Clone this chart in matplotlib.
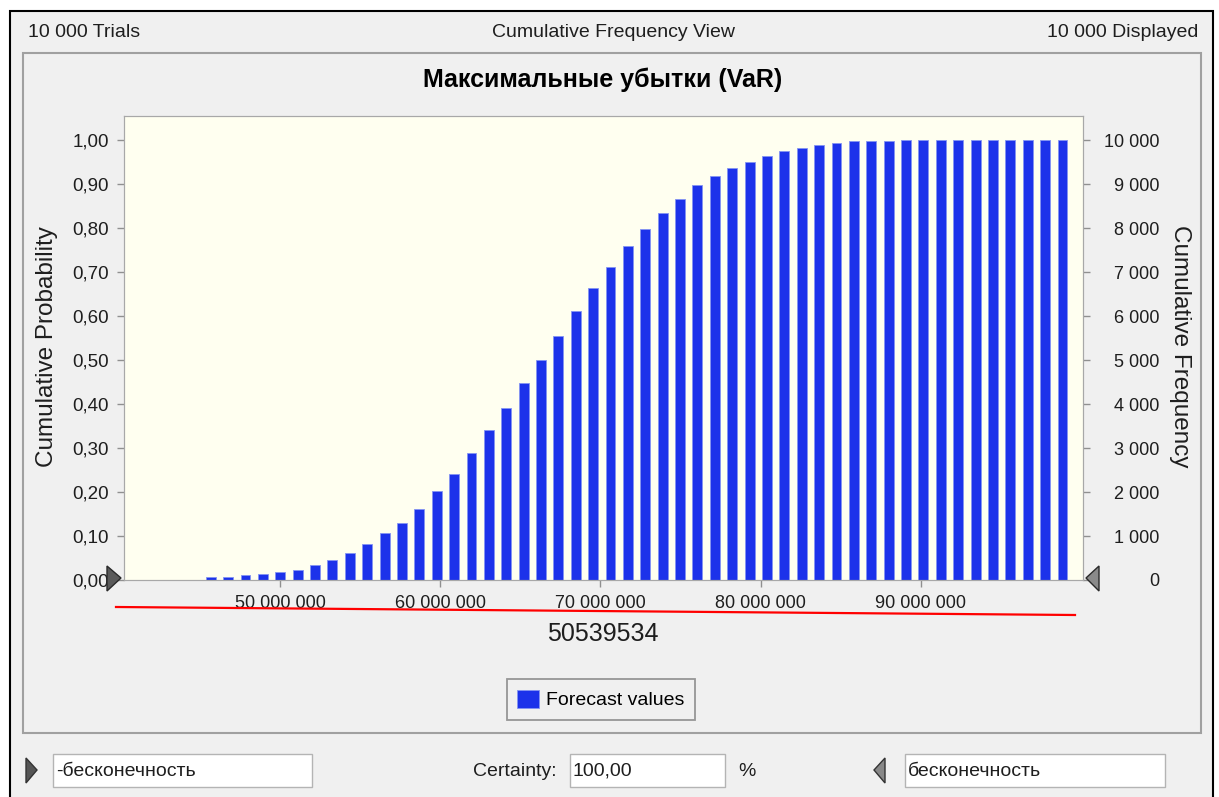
import numpy as np
import matplotlib
matplotlib.use('Agg')
import matplotlib.pyplot as plt
from matplotlib.patches import Rectangle, Polygon

plt.rcParams['font.family'] = ['Liberation Sans', 'DejaVu Sans']

# data
bin_first_center = 45.674e6
bin_width = 1.085e6
cum_prob = [0.006, 0.006, 0.011, 0.014, 0.018, 0.022, 0.034, 0.046, 0.062, 0.082,
            0.106, 0.130, 0.161, 0.202, 0.242, 0.289, 0.341, 0.392, 0.448, 0.500,
            0.555, 0.611, 0.664, 0.711, 0.759, 0.798, 0.835, 0.867, 0.899, 0.919,
            0.936, 0.951, 0.963, 0.975, 0.982, 0.990, 0.994, 0.998, 0.998, 0.998,
            1.000, 1.000, 1.000, 1.000, 1.000, 1.000, 1.000, 1.000, 1.000, 1.000]
n_trials = 10000
x_ticks = [50e6, 60e6, 70e6, 80e6, 90e6]
y_ticks = [0.0, 0.1, 0.2, 0.3, 0.4, 0.5, 0.6, 0.7, 0.8, 0.9, 1.0]
freq_ticks = [0, 1000, 2000, 3000, 4000, 5000, 6000, 7000, 8000, 9000, 10000]
title = 'Максимальные убытки (VaR)'
marked_value = '50539534'

centers = bin_first_center + bin_width * np.arange(len(cum_prob))

W, H = 1219, 797
BLUE = '#1C32EA'
TXT = '#1E1E1E'
UI = 14

fig = plt.figure(figsize=(W / 100, H / 100), dpi=100, facecolor='white')

# background "window" pieces, in pixel coords
bg = fig.add_axes([0, 0, 1, 1], zorder=-1)
bg.set_xlim(0, W)
bg.set_ylim(H, 0)
bg.axis('off')
bg.add_patch(Rectangle((10, 11), 1203, 800, facecolor='#F0F0F0', edgecolor='black', lw=1.5))
bg.add_patch(Rectangle((23, 53), 1178, 680, facecolor='#F0F0F0', edgecolor='#A0A0A0', lw=1.5))
bg.text(28, 32, f'{n_trials:,}'.replace(',', ' ') + ' Trials', fontsize=UI, color=TXT, va='center', ha='left')
bg.text(614, 32, 'Cumulative Frequency View', fontsize=UI, color=TXT, va='center', ha='center')
bg.text(1198, 32, f'{n_trials:,}'.replace(',', ' ') + ' Displayed', fontsize=UI, color=TXT, va='center', ha='right')
bg.text(603, 80, title, fontsize=18, fontweight='bold', color='black', va='center', ha='center')
bg.text(603, 634, marked_value, fontsize=18, color=TXT, va='center', ha='center')

# bottom controls
for x0, w, s in [(53, 259, '-бесконечность'), (570, 155, '100,00'), (905, 260, 'бесконечность')]:
    bg.add_patch(Rectangle((x0, 754), w, 33, facecolor='white', edgecolor='#B4B4B4', lw=1))
    bg.text(x0 + 3, 771, s, fontsize=UI, color=TXT, va='center', ha='left')
bg.text(557, 771, 'Certainty:', fontsize=UI, color=TXT, va='center', ha='right')
bg.text(738, 771, '%', fontsize=UI, color=TXT, va='center', ha='left')
bg.add_patch(Polygon([(26, 758), (37, 770), (26, 783)], closed=True, facecolor='#555555', edgecolor='#333333'))
bg.add_patch(Polygon([(885, 758), (874, 770), (885, 783)], closed=True, facecolor='#888888', edgecolor='#333333'))

# main chart
L, R, T, B = 124, 1083, 116, 580
ax = fig.add_axes([L / W, 1 - B / H, (R - L) / W, (B - T) / H], zorder=1)
ax.set_facecolor('#FFFFF0')
bars = ax.bar(centers, cum_prob, width=0.62e6, color=BLUE, edgecolor='#8494F2', linewidth=0.6,
              label='Forecast values')
ax.set_xlim(40.26e6, 100.12e6)
ymax = 1.055
ax.set_ylim(0, ymax)
ax.set_xticks(x_ticks)
ax.set_xticklabels([f'{int(v):,}'.replace(',', ' ') for v in x_ticks])
ax.set_yticks(y_ticks)
ax.set_yticklabels([f'{v:.2f}'.replace('.', ',') for v in y_ticks])
for sp in ax.spines.values():
    sp.set_color('#A8A8A8')
ax.tick_params(axis='both', colors='#909090', labelcolor=TXT, length=5, width=1)
ax.tick_params(axis='y', labelsize=13.5, pad=6)
ax.tick_params(axis='x', labelsize=13, pad=6)
ax.set_ylabel('Cumulative Probability', fontsize=17.5, color=TXT)
ax.yaxis.set_label_coords(-0.069, 0.503)

ax2 = ax.twinx()
ax2.set_ylim(0, ymax * n_trials)
ax2.set_yticks(freq_ticks)
ax2.set_yticklabels([f'{v:,}'.replace(',', ' ') for v in freq_ticks], ha='right')
ax2.tick_params(axis='y', colors='#909090', labelcolor=TXT, length=5, width=1, labelsize=13, pad=50)
for sp in ax2.spines.values():
    sp.set_color('#A8A8A8')
ax2.set_ylabel('Cumulative Frequency', fontsize=17.5, color=TXT, rotation=270, va='center')
ax2.yaxis.set_label_coords(1.101, 0.503)

fig.legend(handles=[bars], loc='center', bbox_to_anchor=(601 / W, 1 - 699.5 / H), fontsize=UI,
           frameon=True, fancybox=False, edgecolor='#808080', facecolor='#F0F0F0',
           handlelength=1.1, handleheight=1.1, handletextpad=0.4, borderpad=0.55).get_frame().set_linewidth(1.3)

# overlay: slider triangles and the hand-drawn red line
ov = fig.add_axes([0, 0, 1, 1], zorder=5)
ov.set_xlim(0, W)
ov.set_ylim(H, 0)
ov.axis('off')
ov.patch.set_alpha(0)
ov.add_patch(Polygon([(107, 566), (121, 578), (107, 591)], closed=True, facecolor='#5A5A5A', edgecolor='#2A2A2A'))
ov.add_patch(Polygon([(1099, 566), (1086, 578), (1099, 591)], closed=True, facecolor='#8A8A8A', edgecolor='#2A2A2A'))
ov.plot([116, 1075], [607, 615], color='red', lw=1.6)

fig.savefig('out.png', dpi=100, facecolor=fig.get_facecolor())
